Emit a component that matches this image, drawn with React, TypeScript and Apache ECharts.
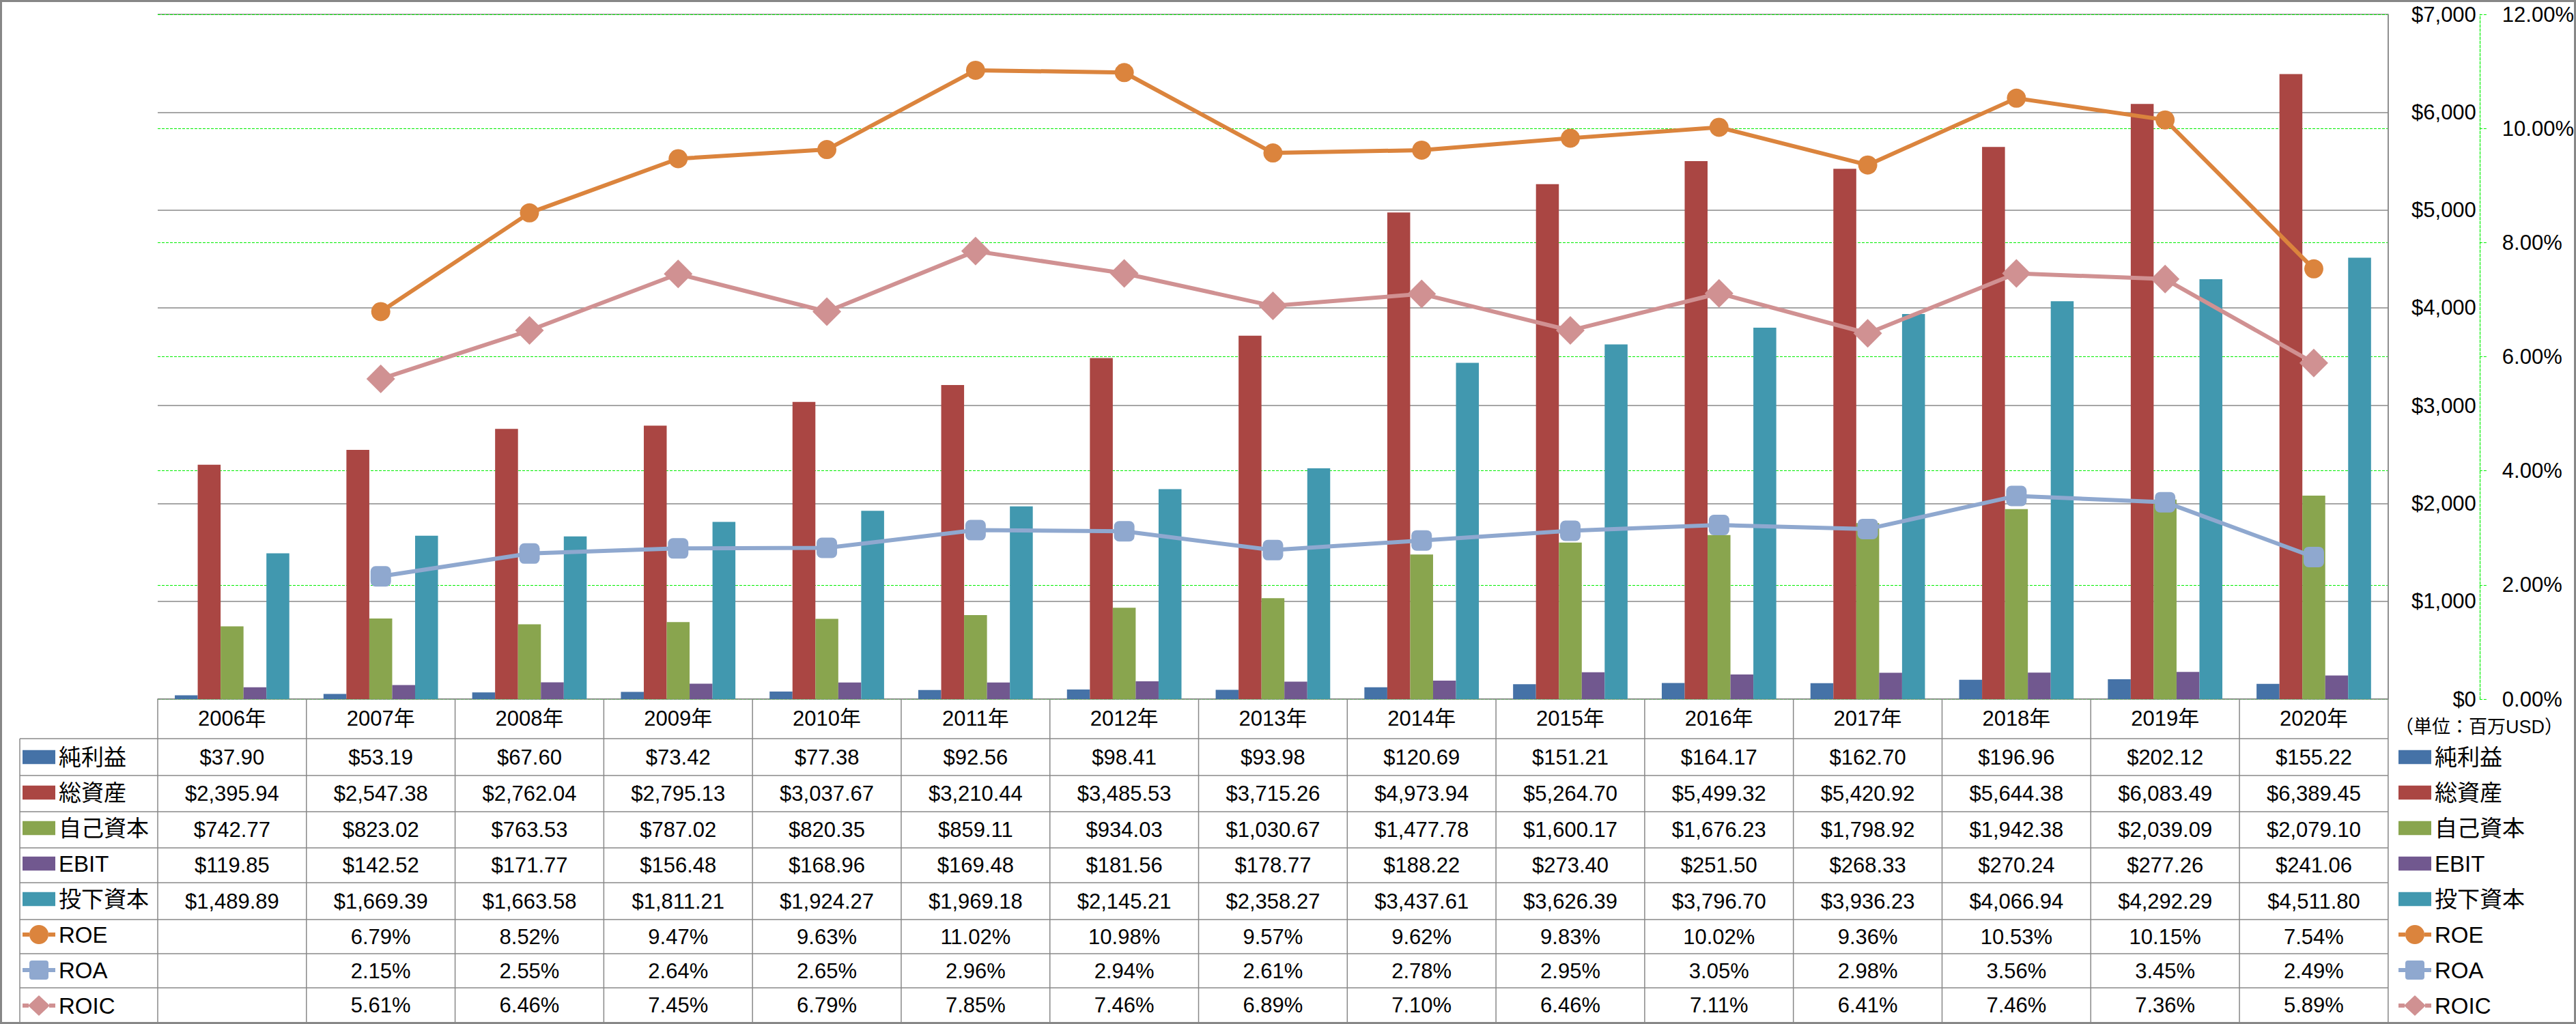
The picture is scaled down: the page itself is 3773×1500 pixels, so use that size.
import React, { useEffect, useRef } from "react";
import * as echarts from "echarts";

const years = ["2006年", "2007年", "2008年", "2009年", "2010年", "2011年", "2012年", "2013年", "2014年", "2015年", "2016年", "2017年", "2018年", "2019年", "2020年"];
const netIncome = [37.9, 53.19, 67.6, 73.42, 77.38, 92.56, 98.41, 93.98, 120.69, 151.21, 164.17, 162.7, 196.96, 202.12, 155.22];
const totalAssets = [2395.94, 2547.38, 2762.04, 2795.13, 3037.67, 3210.44, 3485.53, 3715.26, 4973.94, 5264.7, 5499.32, 5420.92, 5644.38, 6083.49, 6389.45];
const equity = [742.77, 823.02, 763.53, 787.02, 820.35, 859.11, 934.03, 1030.67, 1477.78, 1600.17, 1676.23, 1798.92, 1942.38, 2039.09, 2079.1];
const ebit = [119.85, 142.52, 171.77, 156.48, 168.96, 169.48, 181.56, 178.77, 188.22, 273.4, 251.5, 268.33, 270.24, 277.26, 241.06];
const investedCapital = [1489.89, 1669.39, 1663.58, 1811.21, 1924.27, 1969.18, 2145.21, 2358.27, 3437.61, 3626.39, 3796.7, 3936.23, 4066.94, 4292.29, 4511.8];
const roe = [null, 6.79, 8.52, 9.47, 9.63, 11.02, 10.98, 9.57, 9.62, 9.83, 10.02, 9.36, 10.53, 10.15, 7.54];
const roa = [null, 2.15, 2.55, 2.64, 2.65, 2.96, 2.94, 2.61, 2.78, 2.95, 3.05, 2.98, 3.56, 3.45, 2.49];
const roic = [null, 5.61, 6.46, 7.45, 6.79, 7.85, 7.46, 6.89, 7.1, 6.46, 7.11, 6.41, 7.46, 7.36, 5.89];

const barNames = ["純利益", "総資産", "自己資本", "EBIT", "投下資本"];
const lineNames = ["ROE", "ROA", "ROIC"];
const barColors = ["#4572A7", "#AA4643", "#89A54E", "#71588F", "#4198AF"];
const lineColors = ["#DB843D", "#8FA8CF", "#D09192"];
const lineSymbols = ["circle", "roundRect", "diamond"];
const lineSymbolSizes = [28, 30, 42];
const unitLabel = "（単位：百万USD）";

const dollarMin = 0;
const dollarMax = 7000;
const dollarStep = 1000;
const pctMin = 0;
const pctMax = 12;
const pctStep = 2;

const FONT = "'Liberation Sans', Arial, 'Noto Sans CJK JP', sans-serif";
const GRAY = "#888888";
const GREEN = "#00ee00";

// legend icon shapes
const barIcon = "path://M0 0H45V19H0Z";
const lineIcons = [
  "path://M0 11H10V17H0Z M38 11H48V17H38Z M10 14A14 14 0 1 1 38 14A14 14 0 1 1 10 14Z",
  "path://M0 11H10V17H0Z M38 11H48V17H38Z M14 0H34Q38 0 38 4V24Q38 28 34 28H14Q10 28 10 24V4Q10 0 14 0Z",
  "path://M0 12H9V18H0Z M39 12H48V18H39Z M24 0L40 15L24 30L8 15Z",
];

const usd = (v: number | null) =>
  v == null ? "" : "$" + v.toLocaleString("en-US", { minimumFractionDigits: 2, maximumFractionDigits: 2 });
const pct = (v: number | null) => (v == null ? "" : v.toFixed(2) + "%");

const tableRows: { values: (number | null)[]; fmt: (v: number | null) => string }[] = [
  { values: netIncome, fmt: usd },
  { values: totalAssets, fmt: usd },
  { values: equity, fmt: usd },
  { values: ebit, fmt: usd },
  { values: investedCapital, fmt: usd },
  { values: roe, fmt: pct },
  { values: roa, fmt: pct },
  { values: roic, fmt: pct },
];

// layout (pixels)
const rowEdges = [1082, 1136, 1189, 1242, 1293, 1347, 1397, 1447, 1498];
const legendColLeft = 29;

export default function App() {
  const ref = useRef<HTMLDivElement>(null);
  useEffect(() => {
    document.body.style.margin = "0";
    const chart = echarts.init(ref.current!, null, { renderer: "svg" });
    const barSeries = [netIncome, totalAssets, equity, ebit, investedCapital].map((d, i) => ({
      name: barNames[i],
      type: "bar",
      yAxisIndex: 0,
      data: d,
      barGap: "0%",
      barCategoryGap: "23%",
      itemStyle: { color: barColors[i] },
    }));
    const lineSeries = [roe, roa, roic].map((d, i) => ({
      name: lineNames[i],
      type: "line",
      yAxisIndex: 1,
      data: d,
      symbol: lineSymbols[i],
      symbolSize: lineSymbolSizes[i],
      lineStyle: { color: lineColors[i], width: 6 },
      itemStyle: { color: lineColors[i] },
      z: 3,
    }));
    const legendData = [
      ...barNames.map((n) => ({ name: n, icon: barIcon })),
      ...lineNames.map((n, i) => ({ name: n, icon: lineIcons[i] })),
    ];
    const legendCommon = {
      orient: "vertical",
      top: 1092,
      padding: 0,
      itemGap: 18,
      itemWidth: 48,
      itemHeight: 34,
      symbolKeepAspect: true,
      selectedMode: false,
      data: legendData,
      textStyle: { fontSize: 33, lineHeight: 34, color: "#000", fontFamily: FONT },
    };
    const option: any = {
      animation: false,
      backgroundColor: "#fff",
      grid: { left: 231, right: 275, top: 21, bottom: 476, containLabel: false },
      legend: [
        { ...legendCommon, left: 33 },
        { ...legendCommon, left: 3513 },
      ],
      xAxis: {
        type: "category",
        data: years,
        axisLine: { show: true, lineStyle: { color: GRAY, width: 1.5 } },
        axisTick: { show: false },
        axisLabel: { interval: 0, margin: 13, fontSize: 31, color: "#000", fontFamily: FONT },
        splitLine: { show: false },
      },
      yAxis: [
        {
          type: "value",
          position: "right",
          min: dollarMin,
          max: dollarMax,
          interval: dollarStep,
          axisLine: { show: true, lineStyle: { color: GRAY, width: 1.5 } },
          axisTick: { show: false },
          axisLabel: {
            margin: 129,
            align: "right",
            fontSize: 31,
            color: "#000",
            fontFamily: FONT,
            formatter: (v: number) => "$" + v.toLocaleString("en-US"),
          },
          splitLine: { show: true, lineStyle: { color: GRAY, width: 1.5 } },
        },
        {
          type: "value",
          position: "right",
          offset: 134,
          min: pctMin,
          max: pctMax,
          interval: pctStep,
          axisLine: { show: true, lineStyle: { color: GREEN, width: 1.2, type: [4, 2] } },
          axisTick: { show: true, inside: false, length: 11, lineStyle: { color: GREEN, width: 1.2, type: [4, 2] } },
          axisLabel: {
            margin: 33,
            fontSize: 31,
            color: "#000",
            fontFamily: FONT,
            formatter: (v: number) => v.toFixed(2) + "%",
          },
          splitLine: { show: true, lineStyle: { color: GREEN, width: 1.2, type: [4, 2] } },
        },
      ],
      series: [...barSeries, ...lineSeries],
    };
    chart.setOption(option);

    const centers = years.map((_, i) => chart.convertToPixel({ xAxisIndex: 0 }, i) as number);
    const colW = centers[1] - centers[0];
    const tLeft = centers[0] - colW / 2;
    const tRight = centers[centers.length - 1] + colW / 2;
    const plotTop = chart.convertToPixel({ yAxisIndex: 0 }, dollarMax) as number;
    const plotBottom = chart.convertToPixel({ yAxisIndex: 0 }, dollarMin) as number;
    const tableBottom = rowEdges[rowEdges.length - 1];

    const lineStyle = { stroke: GRAY, lineWidth: 1.5 };
    const g: any[] = [];
    rowEdges.forEach((y) => {
      g.push({ type: "line", silent: true, shape: { x1: legendColLeft, y1: y, x2: tRight, y2: y }, style: lineStyle });
    });
    g.push({ type: "line", silent: true, shape: { x1: legendColLeft, y1: rowEdges[0], x2: legendColLeft, y2: tableBottom }, style: lineStyle });
    for (let i = 0; i <= years.length; i++) {
      const x = tLeft + i * colW;
      const y1 = i === years.length ? plotTop : plotBottom;
      g.push({ type: "line", silent: true, shape: { x1: x, y1, x2: x, y2: tableBottom }, style: lineStyle });
    }
    tableRows.forEach((row, r) => {
      const cy = (rowEdges[r] + rowEdges[r + 1]) / 2;
      row.values.forEach((v, i) => {
        const t = row.fmt(v);
        if (!t) return;
        g.push({
          type: "text",
          silent: true,
          x: centers[i],
          y: cy,
          style: {
            text: t,
            fill: "#000",
            fontSize: 31,
            fontFamily: FONT,
            textAlign: "center",
            textVerticalAlign: "middle",
            align: "center",
            verticalAlign: "middle",
          },
        });
      });
    });
    g.push({
      type: "text",
      silent: true,
      x: 3631,
      y: 1065,
      style: {
        text: unitLabel,
        fill: "#000",
        fontSize: 27,
        fontFamily: FONT,
        textAlign: "center",
        textVerticalAlign: "middle",
        align: "center",
        verticalAlign: "middle",
      },
    });
    g.push({
      type: "rect",
      silent: true,
      z: 100,
      shape: { x: 1.5, y: 1.5, width: 3770, height: 1497 },
      style: { fill: "none", stroke: "#878787", lineWidth: 3 },
    });
    chart.setOption({ graphic: g });
    return () => chart.dispose();
  }, []);
  return <div ref={ref} style={{ width: 3773, height: 1500 }} />;
}
